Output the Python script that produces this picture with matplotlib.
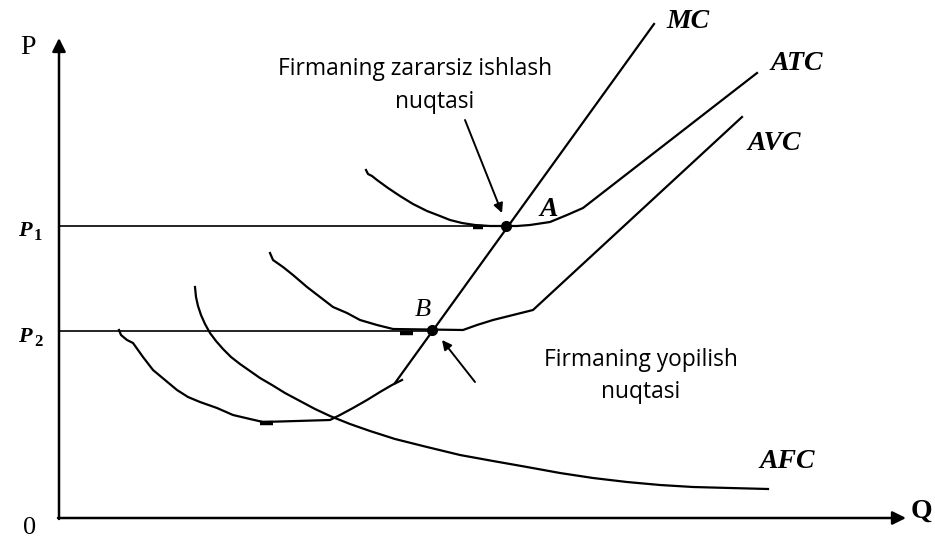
import matplotlib.pyplot as plt

# Kurve nuqtalari (rasmdan o'qilgan, x o'ngga, y pastga)
atc_x = [366, 368, 372, 377, 388, 400, 413, 427, 440, 450, 462, 475, 490, 503,
         517, 530, 550, 567, 583, 757]
atc_y = [170, 174, 176, 180, 188, 196, 204, 211, 216, 220, 223, 225, 226, 226,
         226, 225, 222, 215, 208, 73]

avc_x = [270, 273, 283, 293, 307, 320, 333, 347, 360, 377, 393, 463, 477, 493,
         513, 533, 742]
avc_y = [253, 260, 267, 275, 287, 297, 307, 313, 320, 325, 329, 330, 325, 320,
         315, 310, 117]

mc_low_x = [119, 121, 127, 133, 143, 153, 165, 177, 188, 200, 217, 233, 250,
            263, 330, 340, 353, 367, 380, 392, 402]
mc_low_y = [330, 335, 340, 343, 357, 370, 380, 390, 397, 402, 408, 415, 419,
            422, 420, 415, 408, 400, 392, 385, 380]

mc_x = [395, 654]
mc_y = [383, 24]

afc_x = [195, 196, 198, 201, 205, 210, 216, 223, 231, 240, 250, 260, 272, 285,
         300, 315, 330, 350, 370, 395, 427, 460, 493, 527, 560, 593, 627, 660,
         693, 730, 768]
afc_y = [287, 297, 306, 315, 324, 333, 341, 349, 357, 364, 371, 378, 385, 393,
         401, 409, 416, 424, 431, 439, 447, 455, 461, 467, 473, 478, 482, 485,
         487, 488, 489]

# narx darajalari
p1 = 226
p2 = 331
point_a = (506, 226)
point_b = (432, 330)

# qo'lda chizilgan qalin chiziqchalar
blips_x = [(260, 273), (400, 413), (473, 483)]
blips_y = [423, 333, 227]

fig = plt.figure(figsize=(9.35, 5.38), dpi=100)
ax = fig.add_axes([0, 0, 1, 1])
ax.set_xlim(0, 935)
ax.set_ylim(538, 0)
ax.axis('off')

serif = 'Liberation Serif'
sans = 'Open Sans'

# o'qlar
arr = dict(arrowstyle='-|>', lw=1.8, color='black', mutation_scale=20,
           shrinkA=0, shrinkB=0)
ax.annotate('', xy=(59, 38), xytext=(59, 519), arrowprops=arr)
ax.annotate('', xy=(906, 518), xytext=(58, 518), arrowprops=arr)

# narx chiziqlari
ax.plot([59, point_a[0]], [p1, p1], color='black', lw=1.2)
ax.plot([59, point_b[0]], [p2, p2], color='black', lw=1.2)

# kurvalar
lw = 1.6
for xs, ys in [(atc_x, atc_y), (avc_x, avc_y), (mc_low_x, mc_low_y),
               (mc_x, mc_y), (afc_x, afc_y)]:
    ax.plot(xs, ys, color='black', lw=lw, solid_joinstyle='round')
for bx, by in zip(blips_x, blips_y):
    ax.plot(bx, [by, by], color='black', lw=3.2, solid_capstyle='butt')

# nuqtalar
ax.plot(*point_a, 'o', color='black', markersize=7)
ax.plot(*point_b, 'o', color='black', markersize=7)

# yozuvlar
ax.text(28, 47, 'P', fontsize=20, family=serif, ha='center', va='center')
ax.text(30, 528, '0', fontsize=19, family=serif, ha='center', va='center')
ax.text(921, 511, 'Q', fontsize=20, family=serif, weight='bold', ha='center', va='center')

ax.text(25, p1 + 5, 'P', fontsize=16, family=serif, weight='bold', style='italic',
        ha='center', va='center')
ax.text(38, p1 + 10, '1', fontsize=12, family=serif, weight='bold', ha='center', va='center')
ax.text(25, p2 + 6, 'P', fontsize=16, family=serif, weight='bold', style='italic',
        ha='center', va='center')
ax.text(38, p2 + 11, '2', fontsize=12, family=serif, weight='bold', ha='center', va='center')

bi = dict(family=serif, weight='bold', style='italic', ha='center', va='center', fontsize=20)
ax.text(688, 22, 'MC', **bi)
ax.text(797, 63, 'ATC', **bi)
ax.text(774, 143, 'AVC', **bi)
ax.text(787, 461, 'AFC', **bi)
ax.text(549, 209, 'A', **bi)
ax.text(423, 310, 'B', family=serif, style='italic', ha='center', va='center', fontsize=19)

fs = 16.4
ax.text(415, 69, 'Firmaning zararsiz ishlash', fontsize=fs, family=sans,
        ha='center', va='center')
ax.text(435, 102, 'nuqtasi', fontsize=fs, family=sans, ha='center', va='center')
ax.text(641, 360, 'Firmaning yopilish', fontsize=fs, family=sans,
        ha='center', va='center')
ax.text(641, 392, 'nuqtasi', fontsize=fs, family=sans, ha='center', va='center')

small = dict(arrowstyle='-|>', lw=1.4, color='black', mutation_scale=14,
             shrinkA=0, shrinkB=0)
ax.annotate('', xy=(502, 213), xytext=(465, 120), arrowprops=small)
ax.annotate('', xy=(442, 340), xytext=(475, 382), arrowprops=small)

fig.savefig('out.png', dpi=100)
